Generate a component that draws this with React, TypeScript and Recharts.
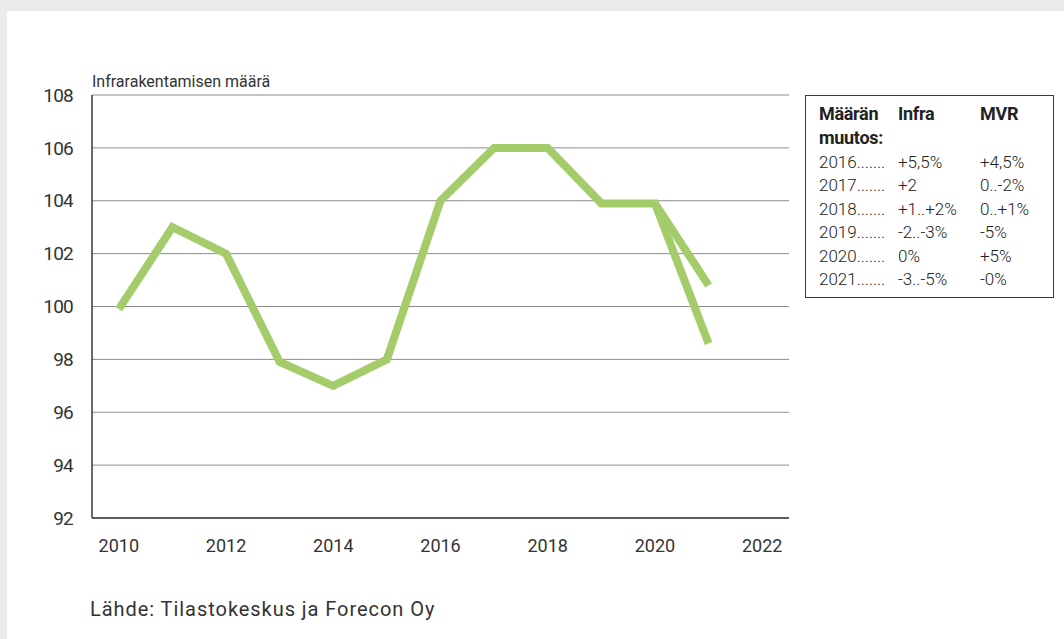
import React from "react";
import { LineChart, Line, XAxis, YAxis, CartesianGrid } from "recharts";

const years = ["2010", "2011", "2012", "2013", "2014", "2015", "2016", "2017", "2018", "2019", "2020", "2021", "2022"];
const infraLow = [99.9, 103, 102, 97.9, 97, 98, 104, 106, 106, 103.9, 103.9, 98.6, null];
const infraHigh = [null, null, null, null, null, null, null, null, null, null, 103.9, 100.8, null];
const yTicks = [92, 94, 96, 98, 100, 102, 104, 106, 108];

const tableHeader = ["Määrän", "Infra", "MVR"];
const tableHeader2 = "muutos:";
const tableYears = ["2016.......", "2017.......", "2018.......", "2019.......", "2020.......", "2021......."];
const tableInfra = ["+5,5%", "+2", "+1..+2%", "-2..-3%", "0%", "-3..-5%"];
const tableMvr = ["+4,5%", "0..-2%", "0..+1%", "-5%", "+5%", "-0%"];

const data = years.map((y, i) => ({ year: y, low: infraLow[i], high: infraHigh[i] }));

const FONT = "Roboto, 'DejaVu Sans', sans-serif";
const LINE = "#a5cc6b";
const DARK = "#3a3a3a";

export default function App() {
  return (
    <div style={{ position: "absolute", left: 0, top: 0, width: 1064, height: 639, background: "#ebebeb", overflow: "hidden", fontFamily: FONT }}>
      <div style={{ position: "absolute", left: 7, top: 11, width: 1057, height: 628, background: "#ffffff" }} />
      <div style={{ position: "absolute", left: 0, top: 0 }}>
        <LineChart width={1064} height={639} data={data} margin={{ top: 95, right: 275, bottom: 91, left: 32 }}>
          <CartesianGrid horizontal={true} vertical={false} stroke="#8c8c8c" strokeWidth={1} />
          <XAxis
            dataKey="year"
            type="category"
            scale="band"
            interval={1}
            height={30}
            tickLine={false}
            tickSize={0}
            tickMargin={21}
            axisLine={{ stroke: DARK, strokeWidth: 1.5 }}
            tick={{ fill: "#333", fontSize: 18, fontFamily: FONT }}
          />
          <XAxis xAxisId="top" dataKey="year" scale="band" orientation="top" height={0} tick={false} tickLine={false} axisLine={{ stroke: DARK, strokeWidth: 1.5 }} />
          <YAxis
            type="number"
            domain={[92, 108]}
            ticks={yTicks}
            width={60}
            tickLine={false}
            tickSize={0}
            tickMargin={19}
            axisLine={{ stroke: DARK, strokeWidth: 1.5 }}
            tick={{ fill: "#333", fontSize: 19, fontFamily: FONT, letterSpacing: -0.8 }}
          />
          <YAxis yAxisId="right" orientation="right" type="number" domain={[92, 108]} width={0} tick={false} tickLine={false} axisLine={{ stroke: DARK, strokeWidth: 1.5 }} />
          <Line dataKey="high" stroke={LINE} strokeWidth={8} dot={false} activeDot={false} isAnimationActive={false} connectNulls={false} type="linear" />
          <Line dataKey="low" stroke={LINE} strokeWidth={8} dot={false} activeDot={false} isAnimationActive={false} connectNulls={false} type="linear" />
        </LineChart>
      </div>
      <div style={{ position: "absolute", left: 92, top: 72, fontSize: 16, color: "#333", whiteSpace: "nowrap" }}>Infrarakentamisen määrä</div>
      <div style={{ position: "absolute", left: 90, top: 597, fontSize: 20, color: "#333", letterSpacing: 0.95, whiteSpace: "nowrap" }}>Lähde: Tilastokeskus ja Forecon Oy</div>
      <div style={{ position: "absolute", left: 805, top: 95, width: 249, height: 203, border: `1px solid ${DARK}`, boxSizing: "border-box", color: "#222" }}>
        <div style={{ position: "absolute", left: 13, top: 6, fontSize: 18, fontWeight: 700, lineHeight: "24px", letterSpacing: -0.3 }}>
          {tableHeader[0]}<br />{tableHeader2}
        </div>
        <div style={{ position: "absolute", left: 92, top: 6, fontSize: 18, fontWeight: 700, lineHeight: "24px", letterSpacing: -0.3 }}>{tableHeader[1]}</div>
        <div style={{ position: "absolute", left: 174, top: 6, fontSize: 18, fontWeight: 700, lineHeight: "24px", letterSpacing: -0.3 }}>{tableHeader[2]}</div>
        {tableYears.map((y, i) => (
          <React.Fragment key={y}>
            <div style={{ position: "absolute", left: 13, top: 55 + i * 23.4, fontSize: 17, fontWeight: 300, lineHeight: "23px", whiteSpace: "nowrap" }}>{y}</div>
            <div style={{ position: "absolute", left: 92, top: 55 + i * 23.4, fontSize: 17, fontWeight: 300, lineHeight: "23px", whiteSpace: "nowrap" }}>{tableInfra[i]}</div>
            <div style={{ position: "absolute", left: 174, top: 55 + i * 23.4, fontSize: 17, fontWeight: 300, lineHeight: "23px", whiteSpace: "nowrap" }}>{tableMvr[i]}</div>
          </React.Fragment>
        ))}
      </div>
    </div>
  );
}
